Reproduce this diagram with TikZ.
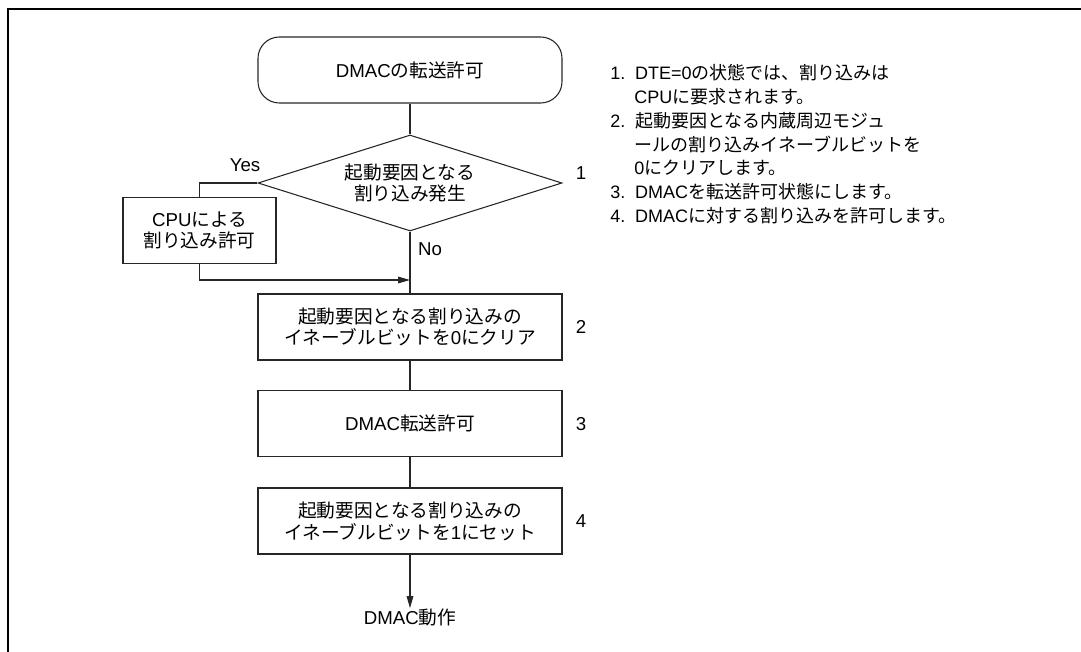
\documentclass[tikz,border=0pt]{standalone}
\usepackage{fontspec}
\setmainfont{Liberation Sans}
\newfontfamily\cjk{Noto Sans CJK JP}
\newcommand\ja[1]{{\cjk #1}}
\usetikzlibrary{shapes.geometric,arrows.meta}
\tikzset{
  flow/.style={draw=black!85, line width=0.8pt, align=center, inner sep=0pt,
    font=\fontsize{14}{16.3}\selectfont},
  startbox/.style={flow, rounded corners=16pt, minimum width=228pt, minimum height=49.5pt},
  procbox/.style={flow, minimum width=228pt, minimum height=49.5pt},
  decision/.style={flow, diamond, aspect=3.17, minimum width=228pt, minimum height=72pt},
  label/.style={font=\fontsize{14}{16.3}\selectfont, inner sep=0pt},
  note/.style={font=\fontsize{13.5}{14.4}\selectfont, inner sep=0pt, anchor=base west},
  line/.style={draw=black!85, line width=0.8pt},
  arrow/.style={line, -{Triangle[length=9pt,width=5pt]}}
}
\begin{document}
\begin{tikzpicture}[x=0.75pt,y=-0.75pt]
\useasboundingbox (0,0) rectangle (1081,652);
\draw[line width=1.5pt] (7.5,652) -- (7.5,9) -- (1081,9);

\node[startbox] (start) at (410,70) {DMAC\ja{の転送許可}};
\node[decision] (dec) at (410,183) {\ja{起動要因となる}\\\ja{割り込み発生}};
\node[procbox, minimum width=114.75pt, minimum height=50pt] (cpu) at (199.5,230.5) {CPU\ja{による}\\\ja{割り込み許可}};
\node[procbox] (clr) at (410,327) {\ja{起動要因となる割り込みの}\\\ja{イネーブルビットを}0\ja{にクリア}};
\node[procbox] (ena) at (410,423.7) {DMAC\ja{転送許可}};
\node[procbox] (set) at (410,521) {\ja{起動要因となる割り込みの}\\\ja{イネーブルビットを}1\ja{にセット}};
\node[label] (done) at (410,617) {DMAC\ja{動作}};
\coordinate (join) at (410,280);

\node[label] (yes) at (245,165) {Yes};
\node[label] (no) at (430,249) {No};
\node[label] (n1) at (581,173) {1};
\node[label] (n2) at (581,327) {2};
\node[label] (n3) at (581,424) {3};
\node[label] (n4) at (581,521) {4};

\draw[line] (start) -- (dec);
\draw[line] (dec) -- (clr);
\draw[line] (clr) -- (ena);
\draw[line] (ena) -- (set);
\draw[arrow] (set) -- (done);
\draw[line] (dec.west) -| (cpu.north);
\draw[arrow] (cpu.south) |- (join);

% notes
\foreach \x/\y/\txt [count=\i] in {
  610/79.7/{1.\hspace{0.55em}DTE=0\ja{の状態では、割り込みは}},
  634/103.5/{CPU\ja{に要求されます。}},
  610/127.3/{2.\hspace{0.55em}\ja{起動要因となる内蔵周辺モジュ}},
  634/151.1/{\ja{ールの割り込みイネーブルビットを}},
  634/174.9/{0\ja{にクリアします。}},
  610/198.7/{3.\hspace{0.55em}DMAC\ja{を転送許可状態にします。}},
  610/222.5/{4.\hspace{0.55em}DMAC\ja{に対する割り込みを許可します。}}}
  \node[note] (note\i) at (\x,\y) {\txt};
\end{tikzpicture}
\end{document}
